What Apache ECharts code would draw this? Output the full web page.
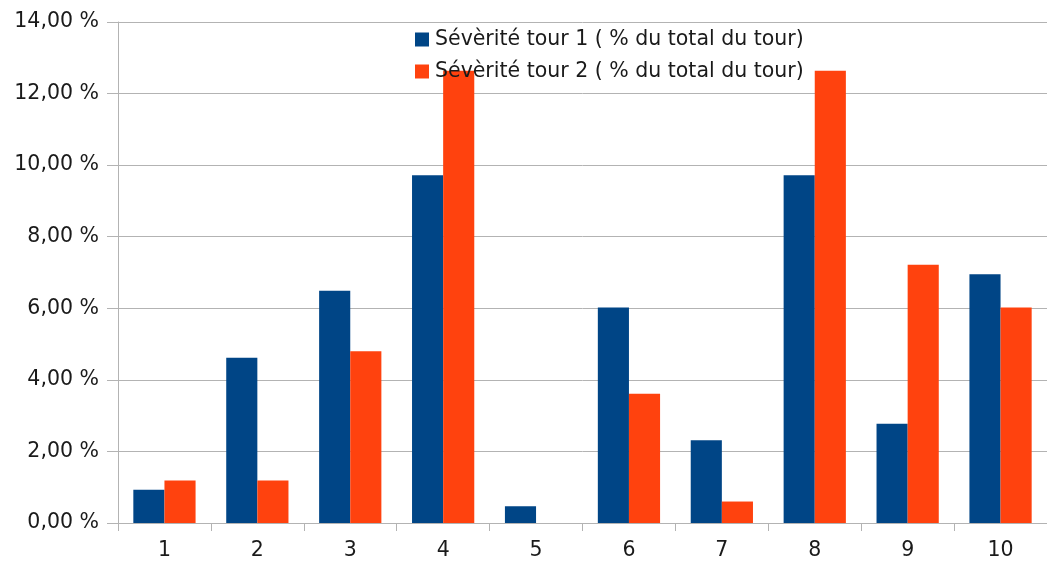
<!DOCTYPE html>
<html>
<head>
<meta charset="utf-8">
<script src="https://cdn.jsdelivr.net/npm/echarts@6/dist/echarts.min.js"></script>
<style>
html,body{margin:0;padding:0;background:#fff;}
#chart{width:1047px;height:561px;}
</style>
</head>
<body>
<div id="chart"></div>
<script>
const categories = ['1','2','3','4','5','6','7','8','9','10'];
const seriesNames = ['Sévèrité tour 1 ( % du total du tour)', 'Sévèrité tour 2 ( % du total du tour)'];
const tour1 = [0.93, 4.62, 6.49, 9.72, 0.47, 6.02, 2.31, 9.72, 2.77, 6.95];
const tour2 = [1.19, 1.19, 4.80, 12.64, 0.00, 3.61, 0.60, 12.64, 7.22, 6.02];
const yMin = 0, yMax = 14, yStep = 2;

const chart = echarts.init(document.getElementById('chart'), null, {renderer: 'canvas'});
const font = 'DejaVu Sans, Liberation Sans, sans-serif';
chart.setOption({
  backgroundColor: '#ffffff',
  animation: false,
  grid: {left: 118, top: 22, width: 933, height: 502, containLabel: false},
  legend: {
    orient: 'vertical',
    left: 410,
    top: 24,
    itemWidth: 14,
    itemHeight: 14,
    itemGap: 11,
    icon: 'rect',
    textStyle: {fontFamily: font, fontSize: 20.5, color: '#1a1a1a', padding: [0,0,0,1]},
    data: seriesNames
  },
  xAxis: {
    type: 'category',
    data: categories,
    axisLine: {show: true, lineStyle: {color: '#b3b3b3', width: 1}},
    axisTick: {show: true, length: 8, lineStyle: {color: '#b3b3b3'}},
    axisLabel: {fontFamily: font, fontSize: 20.5, color: '#1a1a1a', margin: 17}
  },
  yAxis: {
    type: 'value',
    min: yMin, max: yMax, interval: yStep,
    axisLine: {show: true, lineStyle: {color: '#b3b3b3', width: 1}},
    axisTick: {show: true, length: 11, lineStyle: {color: '#b3b3b3'}},
    splitLine: {show: true, lineStyle: {color: '#b3b3b3', width: 1}},
    axisLabel: {
      fontFamily: font, fontSize: 20.5, color: '#1a1a1a', margin: 19,
      formatter: v => v.toFixed(2).replace('.', ',') + ' %'
    }
  },
  series: [
    {name: seriesNames[0], type: 'bar', data: tour1, barGap: '0%', barCategoryGap: '33%', itemStyle: {color: '#004586'}},
    {name: seriesNames[1], type: 'bar', data: tour2, barGap: '0%', barCategoryGap: '33%', itemStyle: {color: '#ff420e'}}
  ]
});
</script>
</body>
</html>
